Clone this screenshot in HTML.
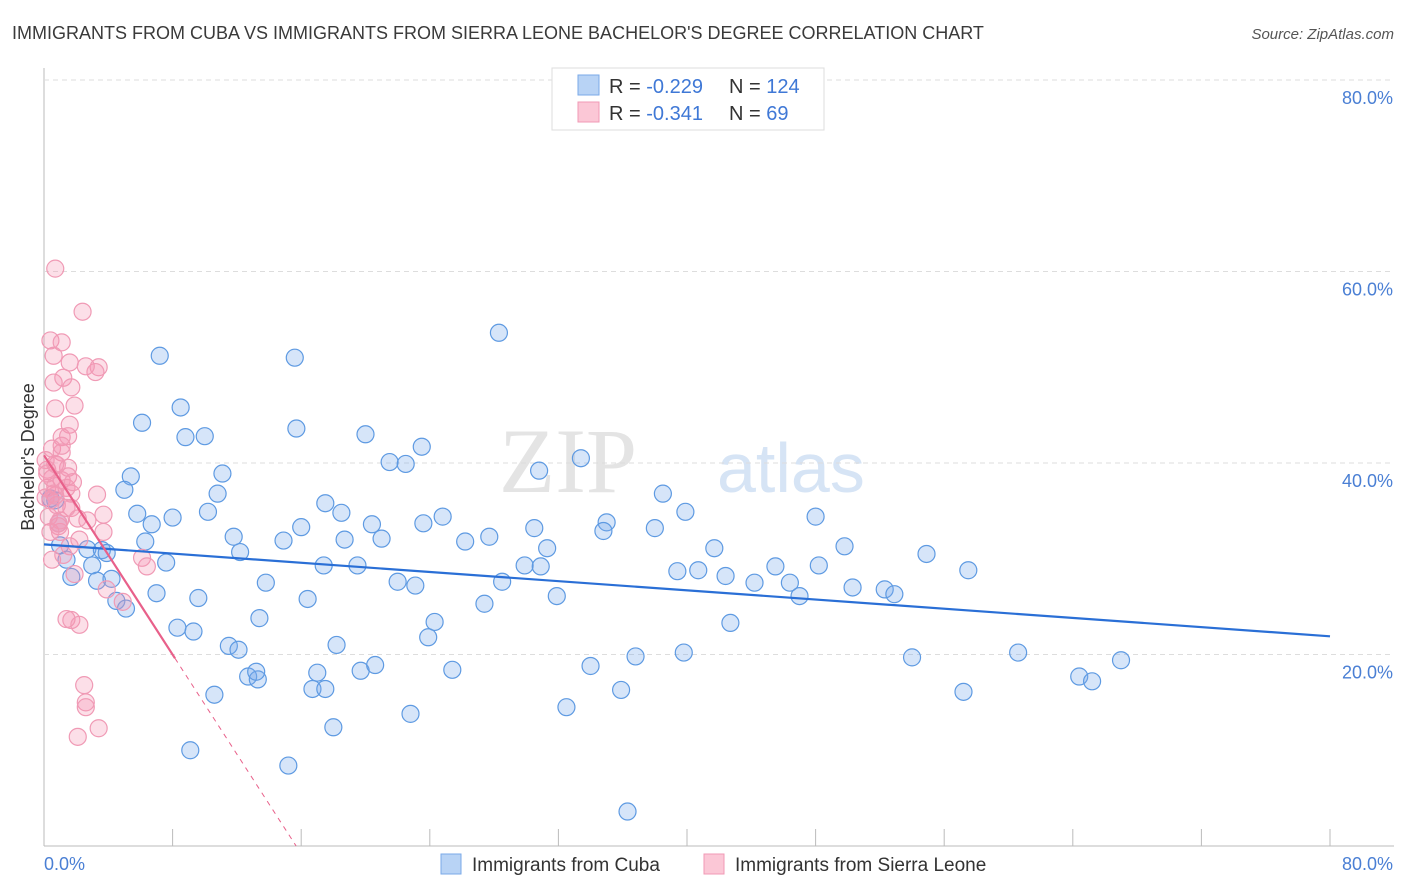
<!DOCTYPE html>
<html><head><meta charset="utf-8"><style>
body{margin:0;background:#fff;font-family:"Liberation Sans",sans-serif;}
svg{display:block}
</style></head><body>
<svg id="chart" width="1406" height="892" xmlns="http://www.w3.org/2000/svg">
<text x="12" y="39" font-size="18" fill="#3a3a3a">IMMIGRANTS FROM CUBA VS IMMIGRANTS FROM SIERRA LEONE BACHELOR'S DEGREE CORRELATION CHART</text>
<text x="1394" y="39" font-size="15" fill="#555" font-style="italic" text-anchor="end">Source: ZipAtlas.com</text>
<text x="637" y="492" font-size="92" fill="#e4e4e4" font-family="Liberation Serif,serif" text-anchor="end">ZIP</text>
<text x="717" y="492" font-size="70" fill="#d6e4f5">atlas</text>
<g id="grid"></g>
<g id="marks"></g>
<g id="lines"></g>
<text transform="translate(34,457) rotate(-90)" font-size="18" fill="#333" text-anchor="middle">Bachelor's Degree</text>
<text x="44" y="870" font-size="18" fill="#4a7fd4">0.0%</text>
<text x="1393" y="870" font-size="18" fill="#4a7fd4" text-anchor="end">80.0%</text>
<g>
<rect x="552" y="68" width="272" height="62" fill="#fff" stroke="#ddd"/>
<rect x="578" y="75" width="21" height="20" fill="#b8d3f5" stroke="#7aa9e8"/>
<rect x="578" y="102" width="21" height="20" fill="#fbc7d6" stroke="#f09ab5"/>
<text x="609" y="93" font-size="20" fill="#333">R = <tspan fill="#3f78d6">-0.229</tspan></text>
<text x="729" y="93" font-size="20" fill="#333">N = <tspan fill="#3f78d6">124</tspan></text>
<text x="609" y="120" font-size="20" fill="#333">R = <tspan fill="#3f78d6"> -0.341</tspan></text>
<text x="729" y="120" font-size="20" fill="#333">N = <tspan fill="#3f78d6">  69</tspan></text>
</g>
<g>
<rect x="441" y="854" width="20" height="20" fill="#b8d3f5" stroke="#7aa9e8"/>
<text x="472" y="871" font-size="19" fill="#333">Immigrants from Cuba</text>
<rect x="704" y="854" width="20" height="20" fill="#fbc7d6" stroke="#f09ab5"/>
<text x="735" y="871" font-size="19" fill="#333">Immigrants from Sierra Leone</text>
</g>
</svg>
<script>
const yTicks=[20,40,60,80];
const yTickLabels=["20.0%","40.0%","60.0%","80.0%"];
const xTicks=[8,16,24,32,40,48,56,64,72,80];
const cubaX=[7.2,15.6,28.3,6.1,8.5,8.8,10.0,15.7,20.0,23.5,21.5,22.5,30.8,33.4,11.1,5.4,5.0,10.8,38.5,5.8,6.7,8.0,10.2,11.8,14.9,16.0,17.5,18.5,20.4,21.0,18.7,23.6,24.8,26.2,27.7,30.5,31.3,35.0,34.8,38.0,39.9,48.0,49.8,41.7,54.9,57.5,1.0,1.4,2.7,3.0,3.6,3.9,1.7,3.3,4.2,7.6,12.2,6.3,17.4,19.5,29.9,30.9,39.4,40.7,42.4,45.5,48.2,44.2,46.4,47.0,50.3,52.3,52.9,13.8,22.0,23.1,28.5,31.9,4.5,5.1,7.0,9.6,16.4,27.4,13.4,24.3,23.9,42.7,8.3,9.3,11.5,12.1,18.2,34.0,36.8,39.8,54.0,60.6,67.0,64.4,65.2,12.7,13.3,13.2,17.0,16.7,17.5,19.7,20.6,25.4,10.6,35.9,57.2,32.5,22.8,18.0,9.1,15.2,36.3,0.4,0.7,0.9];
const cubaY=[51.2,51.0,53.6,44.2,45.8,42.7,42.8,43.6,43.0,41.7,40.1,39.9,39.2,40.5,38.9,38.6,37.2,36.8,36.8,34.7,33.6,34.3,34.9,32.3,31.9,33.3,35.8,34.8,33.6,32.1,32.0,33.7,34.4,31.8,32.3,33.2,31.1,33.8,32.9,33.2,34.9,34.4,31.3,31.1,30.5,28.8,31.4,29.9,31.0,29.3,30.9,30.6,28.1,27.7,27.9,29.6,30.7,31.8,29.3,29.3,29.3,29.2,28.7,28.8,28.2,29.2,29.3,27.5,27.5,26.1,27.0,26.8,26.3,27.5,27.6,27.2,27.6,26.1,25.6,24.8,26.4,25.9,25.8,25.3,23.8,23.4,21.8,23.3,22.8,22.4,20.9,20.5,21.0,18.8,19.8,20.2,19.7,20.2,19.4,17.7,17.2,17.7,17.4,18.2,18.1,16.4,16.4,18.3,18.9,18.4,15.8,16.3,16.1,14.5,13.8,12.4,10.0,8.4,3.6,36.3,36.1,33.7];
const sierraX=[0.7,2.4,0.4,1.1,0.6,1.6,3.4,3.2,2.6,0.6,1.2,1.7,0.7,1.9,1.6,1.1,1.5,0.5,1.1,0.8,1.5,0.2,0.5,1.1,1.4,0.2,0.7,1.7,3.3,0.8,1.7,0.3,2.1,3.7,0.9,1.0,2.2,1.6,3.7,0.4,6.1,6.4,1.9,3.9,4.9,1.4,1.7,2.2,2.5,2.6,2.6,2.1,3.4,0.9,0.5,1.2,0.1,0.1,0.4,1.5,0.7,0.2,1.1,0.7,0.6,1.0,1.4,1.8,2.7];
const sierraY=[60.3,55.8,52.8,52.6,51.2,50.5,50.0,49.5,50.1,48.4,48.9,47.9,45.7,46.0,44.0,42.7,42.8,41.5,41.1,39.8,39.5,39.3,38.4,38.2,37.4,37.4,36.6,36.8,36.7,35.6,35.3,34.4,34.2,34.6,33.4,32.8,32.0,31.3,32.8,32.8,30.1,29.2,28.4,26.8,25.5,23.7,23.6,23.1,16.8,15.0,14.5,11.4,12.3,33.7,29.9,30.4,40.3,36.4,36.1,38.6,37.6,38.9,41.8,39.9,36.8,34.0,35.3,38.0,34.0];
const cubaTrend=[31.5,21.9];
const sierraTrend=[40.8,19.6,8.15];

const NS="http://www.w3.org/2000/svg";
const X0=44,X1=1330,Y0=846,Y1=80;
function xs(v){return X0+v/80*(X1-X0);}
function ys(v){return Y0-v/80*(Y0-Y1);}
function mk(t,a,p){const e=document.createElementNS(NS,t);for(const k in a)e.setAttribute(k,a[k]);p.appendChild(e);return e;}
const grid=document.getElementById('grid'),marks=document.getElementById('marks'),lines=document.getElementById('lines');
const ax=mk('line',{x1:X0,y1:68,x2:X0,y2:Y0,stroke:'#bbb'},grid);


const bx=mk('line',{x1:X0,y1:Y0,x2:1394,y2:Y0,stroke:'#bbb'},grid);


yTicks.forEach((v,i)=>{
 const g=mk('line',{x1:X0,y1:ys(v),x2:1394,y2:ys(v),stroke:'#ddd','stroke-dasharray':'5,4'},grid);
 
 
 const t=mk('text',{x:1393,y:ys(v)+24,'font-size':18,fill:'#4a7fd4','text-anchor':'end'},grid);
 t.textContent=yTickLabels[i];
 
 
});
xTicks.forEach(v=>{
 const t=mk('line',{x1:xs(v),y1:Y0-17,x2:xs(v),y2:Y0,stroke:'#bbb'},grid);
 
 
});
cubaX.forEach((v,i)=>{
 const c=mk('circle',{cx:xs(v),cy:ys(cubaY[i]),r:8.5,fill:'rgba(120,170,235,0.3)',stroke:'#5e9ae2','stroke-width':1.2},marks);
 
 
});
sierraX.forEach((v,i)=>{
 const c=mk('circle',{cx:xs(v),cy:ys(sierraY[i]),r:8.5,fill:'rgba(245,150,180,0.3)',stroke:'#f09ab5','stroke-width':1.2},marks);
 
 
});
const bl=mk('line',{x1:xs(0),y1:ys(cubaTrend[0]),x2:xs(80),y2:ys(cubaTrend[1]),stroke:'#2a6fd6','stroke-width':2.2},lines);


const slope=(sierraTrend[1]-sierraTrend[0])/sierraTrend[2];
const xz=-sierraTrend[0]/slope;
const pl=mk('line',{x1:xs(0),y1:ys(sierraTrend[0]),x2:xs(sierraTrend[2]),y2:ys(sierraTrend[1]),stroke:'#e8608a','stroke-width':2.2},lines);


const pd=mk('line',{x1:xs(sierraTrend[2]),y1:ys(sierraTrend[1]),x2:xs(xz),y2:ys(0),stroke:'#e8608a','stroke-width':1,'stroke-dasharray':'5,5'},lines);


</script>
</body></html>
